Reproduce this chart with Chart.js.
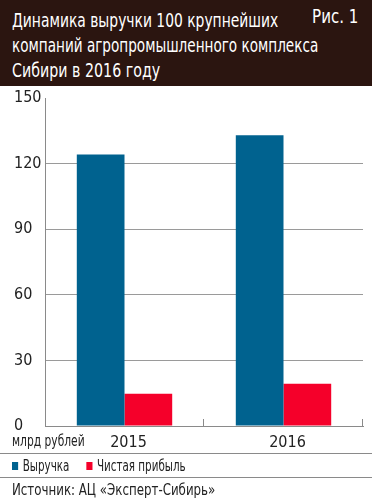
<!DOCTYPE html>
<html>
<head>
<meta charset="utf-8">
<script src="https://cdn.jsdelivr.net/npm/chart.js@4"></script>
<style>
  html, body { margin:0; padding:0; background:#fff; }
  body { width:372px; height:500px; position:relative; overflow:hidden;
         font-family:"DejaVu Sans Condensed","Liberation Sans Narrow","Roboto Condensed","Arial Narrow",sans-serif; color:#222; }
  #header { position:absolute; left:0; top:0; width:372px; height:86px; background:#2b1510; color:#fff; }
  .tl { position:absolute; left:12px; font-size:20px; line-height:25px; white-space:nowrap; transform-origin:left center; }
  #fig { position:absolute; right:14px; top:4px; font-size:20px; line-height:25px; white-space:nowrap; transform-origin:right center; }
  #wrap { position:absolute; left:0; top:86px; width:372px; height:367px; }
  #unit { position:absolute; left:12px; top:432px; font-size:15px; line-height:18px; white-space:nowrap; transform-origin:left center; }
  .hr { position:absolute; left:0; width:372px; height:1px; background:#8a8a8a; }
  #legend { position:absolute; left:12px; top:457px; font-size:15px; line-height:18px; display:flex; white-space:nowrap; transform-origin:left center; }
  .item { display:flex; align-items:center; margin-right:22px; }
  .item:last-child { margin-right:0; }
  .sw { width:8px; height:8px; margin-right:6px; }
  #source { position:absolute; left:12px; top:480px; font-size:16px; line-height:19px; white-space:nowrap; transform-origin:left center; }
</style>
</head>
<body>
<div id="header">
  <div class="tl" id="t1" style="top:8px">Динамика выручки 100 крупнейших</div>
  <div class="tl" id="t2" style="top:33px">компаний агропромышленного комплекса</div>
  <div class="tl" id="t3" style="top:58px">Сибири в 2016 году</div>
  <div id="fig">Рис. 1</div>
</div>
<div id="wrap"><canvas id="c"></canvas></div>
<div id="unit">млрд рублей</div>
<div class="hr" style="top:453px"></div>
<div id="legend"></div>
<div class="hr" style="top:477px"></div>
<div id="source">Источник: АЦ «Эксперт-Сибирь»</div>
<script>
const categories = ['2015', '2016'];
const seriesNames = ['Выручка', 'Чистая прибыль'];
const revenue = [124.2, 133.0];
const profit = [14.8, 19.3];
const yTicks = [0, 30, 60, 90, 120, 150];
const colors = ['#00628f', '#f5002a'];

const FONT = '"DejaVu Sans Condensed","Liberation Sans Narrow","Roboto Condensed","Arial Narrow",sans-serif';

// HTML legend built from series
const leg = document.getElementById('legend');
seriesNames.forEach((n, i) => {
  const it = document.createElement('div'); it.className = 'item';
  const sw = document.createElement('div'); sw.className = 'sw'; sw.style.background = colors[i];
  const t = document.createElement('span'); t.textContent = n;
  it.appendChild(sw); it.appendChild(t); leg.appendChild(it);
});

// condense text horizontally to match narrow typeface of the original
function fit(id, target) {
  const el = document.getElementById(id);
  const w = el.scrollWidth;
  el.style.transform = 'scaleX(' + (target / w) + ')';
}
fit('t1', 266); fit('t2', 306); fit('t3', 148); fit('fig', 46);
fit('unit', 73); fit('legend', 174); fit('source', 203);

const upTicks = {
  id: 'upTicks',
  afterDraw(chart) {
    const xs = chart.scales.x, ctx = chart.ctx, area = chart.chartArea;
    const w = xs.width / categories.length;
    ctx.save();
    ctx.strokeStyle = '#8a8a8a'; ctx.lineWidth = 1;
    for (let i = 1; i <= categories.length; i++) {
      const x = Math.round(xs.left + w * i) - 0.5;
      ctx.beginPath(); ctx.moveTo(x, area.bottom); ctx.lineTo(x, area.bottom - 7); ctx.stroke();
    }
    ctx.restore();
  }
};

new Chart(document.getElementById('c'), {
  type: 'bar',
  data: {
    labels: categories,
    datasets: [
      { label: seriesNames[0], data: revenue, backgroundColor: colors[0] },
      { label: seriesNames[1], data: profit, backgroundColor: colors[1] }
    ]
  },
  options: {
    responsive: true, maintainAspectRatio: false, animation: false,
    layout: { padding: { left: 14, right: 9, top: 12, bottom: 0 } },
    plugins: { legend: { display: false }, tooltip: { enabled: false } },
    datasets: { bar: { barPercentage: 1, categoryPercentage: 0.6 } },
    scales: {
      x: {
        grid: { display: false, drawTicks: false },
        border: { display: true, color: '#8a8a8a', width: 1 },
        ticks: { color: '#222', font: { family: FONT, size: 16 }, padding: 7, labelOffset: 4 },
        afterFit(s) { s.height = 27; }
      },
      y: {
        min: 0, max: 150,
        afterBuildTicks(s) { s.ticks = yTicks.map(v => ({ value: v })); },
        grid: {
          drawTicks: false,
          color: c => (c.tick && (c.tick.value === 0 || c.tick.value === 150)) ? 'rgba(0,0,0,0)' : '#9a9a9a',
          lineWidth: 1
        },
        border: { display: true, color: '#8a8a8a', width: 1 },
        ticks: { color: '#222', font: { family: FONT, size: 16 }, crossAlign: 'far', padding: 0 },
        afterFit(s) { s.width = 31; }
      }
    }
  },
  plugins: [upTicks]
});
</script>
</body>
</html>
